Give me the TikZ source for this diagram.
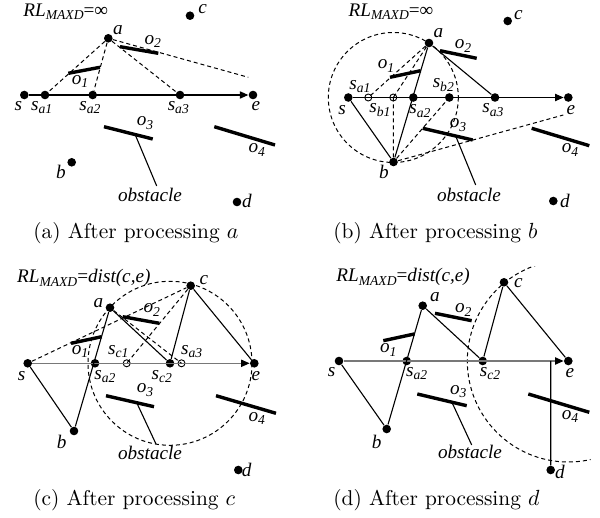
\documentclass[tikz,border=0pt]{standalone}
\usepackage{fontspec}
\newfontfamily\lblfont{Liberation Serif}
\usetikzlibrary{arrows.meta,calc}

% label with a lowered small index
\newcommand\lsub[2]{#1\raisebox{-1.7pt}{\fontsize{6.8}{7}\selectfont #2}}

\tikzset{
  pt/.style={circle, fill=black, inner sep=0pt, minimum size=4.3pt},
  hollow/.style={circle, draw=black, line width=0.45pt, inner sep=0pt, minimum size=3.5pt},
  lbl/.style={font=\lblfont\itshape\fontsize{9.6}{11}\selectfont, inner sep=0pt},
  capt/.style={font=\fontsize{10.7}{12}\selectfont, inner sep=0pt, anchor=west},
  edgeline/.style={line width=0.55pt},
  dashedline/.style={line width=0.5pt, dash pattern=on 2pt off 1.5pt},
  obst/.style={line width=1.7pt},
  pathline/.style={line width=0.55pt, -{Triangle[length=4.2pt,width=3.6pt,color=black]}},
  greypath/.style={pathline, draw={rgb,255:red,120;green,120;blue,120}},
}

\begin{document}
\begin{tikzpicture}[x=0.5pt,y=-0.5pt]
\useasboundingbox (0,0) rectangle (600,518);

% ===================== (a) =====================
\begin{scope}[name prefix=A-]
  \node[pt] (s)   at (24.3,95) {};
  \node[pt] (sa1) at (45,95) {};
  \node[pt] (sa2) at (92.7,95) {};
  \node[pt] (sa3) at (180,95) {};
  \node[pt] (e)   at (253,95) {};
  \node[pt] (a)   at (108.3,38.3) {};
  \node[pt] (c)   at (190,15.7) {};
  \node[pt] (b)   at (71.7,162.3) {};
  \node[pt] (d)   at (237,202) {};
  \coordinate (tail) at (248.3,77.3);

  \draw[pathline] (s) -- (e);
  \draw[dashedline] (a) -- (sa1) (a) -- (sa2) (a) -- (sa3) (a) -- (tail);

  \coordinate (o1a) at (68.3,73.3);  \coordinate (o1b) at (100,67.3);
  \coordinate (o2a) at (120,46.7);   \coordinate (o2b) at (158.3,53.3);
  \coordinate (o3a) at (104,126.7);  \coordinate (o3b) at (152.7,139);
  \coordinate (o4a) at (214.3,126.7);\coordinate (o4b) at (275,145);
  \draw[obst] (o1a) -- (o1b) (o2a) -- (o2b) (o3a) -- (o3b) (o4a) -- (o4b);

  \node[lbl] (obs) at (150,195) {obstacle};
  \coordinate (pend) at (156.7,186);
  \draw[edgeline] ($(o3a)!0.64!(o3b)$) -- (pend);

  \node[lbl, anchor=west] (rl) at (23,12) {\lsub{RL}{MAXD}\upshape=∞};
  \node[lbl] (lc)   at (202.7,9.3) {c};
  \node[lbl] (la)   at (118,30) {a};
  \node[lbl] (ls)   at (18.3,106) {s};
  \node[lbl] (lsa1) at (41.7,107.3) {\lsub{s}{a1}};
  \node[lbl] (lsa2) at (90,107.3) {\lsub{s}{a2}};
  \node[lbl] (lsa3) at (178.3,107.3) {\lsub{s}{a3}};
  \node[lbl] (le)   at (256,106) {e};
  \node[lbl] (lo1)  at (80,81.7) {\lsub{o}{1}};
  \node[lbl] (lo2)  at (152.7,41.7) {\lsub{o}{2}};
  \node[lbl] (lo3)  at (145,123) {\lsub{o}{3}};
  \node[lbl] (lo4)  at (256.7,150) {\lsub{o}{4}};
  \node[lbl] (lb)   at (61,172.3) {b};
  \node[lbl] (ld)   at (247,201) {d};
  \node[capt] (cap) at (33,233) {(a) After processing $a$};
\end{scope}

% ===================== (b) =====================
\begin{scope}[name prefix=B-]
  \node[pt] (s)       at (348.3,97.5) {};
  \node[hollow] (sa1) at (368.3,97.5) {};
  \node[hollow] (sb1) at (393.3,97.5) {};
  \node[pt] (sa2)     at (413.3,97.5) {};
  \node[pt] (sb2)     at (449.3,97.5) {};
  \node[pt] (sa3)     at (495,97.5) {};
  \node[pt] (e)       at (568.3,97.5) {};
  \node[pt] (a)       at (429,43) {};
  \node[pt] (c)       at (507.7,21) {};
  \node[pt] (b)       at (393.5,162) {};
  \node[pt] (d)       at (553.3,201) {};
  \coordinate (tail) at (563.3,115);

  \draw[dashedline] (sb1.center) circle[radius=65];
  \draw[pathline] (s) -- (e);
  \draw[edgeline] (s) -- (b) (b) -- (a) (a) -- (sa3);
  \draw[dashedline] (a) -- (sa1.center) (a) -- (sb1.center)
                    (b) -- (sb1.center) (b) -- (sb2) (b) -- (tail);

  \coordinate (o1a) at (390,77.3);   \coordinate (o1b) at (420.7,70.7);
  \coordinate (o2a) at (440,50.7);   \coordinate (o2b) at (476.7,58.3);
  \coordinate (o3a) at (422.7,128.3);\coordinate (o3b) at (472.7,140);
  \coordinate (o4a) at (531.7,128.3);\coordinate (o4b) at (589.3,145.7);
  \draw[obst] (o1a) -- (o1b) (o2a) -- (o2b) (o3a) -- (o3b) (o4a) -- (o4b);

  \node[lbl] (obs) at (469,195) {obstacle};
  \coordinate (pend) at (475.7,185);
  \draw[edgeline] ($(o3a)!0.66!(o3b)$) -- (pend);

  \node[lbl, anchor=west] (rl) at (348.3,12) {\lsub{RL}{MAXD}\upshape=∞};
  \node[lbl] (lc)   at (518.3,15) {c};
  \node[lbl] (la)   at (438.3,33.3) {a};
  \node[lbl] (ls)   at (342,110) {s};
  \node[lbl] (lsa1) at (360,86.7) {\lsub{s}{a1}};
  \node[lbl] (lsb1) at (380,110) {\lsub{s}{b1}};
  \node[lbl] (lsa2) at (420,111) {\lsub{s}{a2}};
  \node[lbl] (lsb2) at (443.3,85) {\lsub{s}{b2}};
  \node[lbl] (lsa3) at (493,110) {\lsub{s}{a3}};
  \node[lbl] (le)   at (571,110) {e};
  \node[lbl] (lo1)  at (386,66) {\lsub{o}{1}};
  \node[lbl] (lo2)  at (463,46) {\lsub{o}{2}};
  \node[lbl] (lo3)  at (458,125) {\lsub{o}{3}};
  \node[lbl] (lo4)  at (570,150) {\lsub{o}{4}};
  \node[lbl] (lb)   at (384,172) {b};
  \node[lbl] (ld)   at (565,201) {d};
  \node[capt] (cap) at (333,233) {(b) After processing $b$};
\end{scope}

% ===================== (c) =====================
\begin{scope}[name prefix=C-]
  \node[pt] (s)       at (27.7,363.3) {};
  \node[pt] (sa2)     at (95,363.3) {};
  \node[hollow] (sc1) at (126.7,363.3) {};
  \node[pt] (sc2)     at (170,363.3) {};
  \node[hollow] (sa3) at (181.5,363.3) {};
  \node[pt] (e)       at (254.3,363.3) {};
  \node[pt] (a)       at (110,307.7) {};
  \node[pt] (c)       at (190.7,285.7) {};
  \node[pt] (b)       at (74,431) {};
  \node[pt] (d)       at (238.3,470) {};

  \draw[dashedline] (sc2.center) circle[radius=82];
  \draw[greypath] (s) -- (e);
  \draw[edgeline] (s) -- (b) (b) -- (a) (a) -- (sc2) (sc2) -- (c) (c) -- (e);
  \draw[dashedline] (s) -- (c) (c) -- (sc1.center) (a) -- (sa3.center);

  \coordinate (o1a) at (71,343.3);   \coordinate (o1b) at (101.7,336.7);
  \coordinate (o2a) at (122.7,316.7);\coordinate (o2b) at (159.3,323.3);
  \coordinate (o3a) at (106,395.7);  \coordinate (o3b) at (154,406.7);
  \coordinate (o4a) at (216,395.7);  \coordinate (o4b) at (276,413.3);
  \draw[obst] (o1a) -- (o1b) (o2a) -- (o2b) (o3a) -- (o3b) (o4a) -- (o4b);

  \node[lbl] (obs) at (150,453) {obstacle};
  \coordinate (pend) at (156,444);
  \draw[edgeline] ($(o3a)!0.64!(o3b)$) -- (pend);

  \node[lbl, anchor=west] (rl) at (16.7,278.3) {\lsub{RL}{MAXD}\upshape=\itshape dist(c,e)};
  \node[lbl] (lc)   at (204,280) {c};
  \node[lbl] (la)   at (98.3,303.3) {a};
  \node[lbl] (ls)   at (21.7,376) {s};
  \node[lbl] (lsa2) at (105,376.7) {\lsub{s}{a2}};
  \node[lbl] (lsc1) at (118.3,351.7) {\lsub{s}{c1}};
  \node[lbl] (lsc2) at (161.7,376.7) {\lsub{s}{c2}};
  \node[lbl] (lsa3) at (191.7,351.7) {\lsub{s}{a3}};
  \node[lbl] (le)   at (256,376) {e};
  \node[lbl] (lo1)  at (80,351.7) {\lsub{o}{1}};
  \node[lbl] (lo2)  at (151.7,310) {\lsub{o}{2}};
  \node[lbl] (lo3)  at (145,390) {\lsub{o}{3}};
  \node[lbl] (lo4)  at (256.7,418.3) {\lsub{o}{4}};
  \node[lbl] (lb)   at (61.7,441.7) {b};
  \node[lbl] (ld)   at (246.7,470) {d};
  \node[capt] (cap) at (33,500) {(c) After processing $c$};
\end{scope}

% ===================== (d) =====================
\begin{scope}[name prefix=D-]
  \node[pt] (s)   at (339,361) {};
  \node[pt] (sa2) at (406.7,361) {};
  \node[pt] (sc2) at (482.7,361) {};
  \node[pt] (e)   at (568.3,361) {};
  \node[pt] (a)   at (422.7,305.7) {};
  \node[pt] (c)   at (504,282.3) {};
  \node[pt] (b)   at (386.7,429) {};
  \node[pt] (d)   at (550.7,470) {};
  \coordinate (foot) at (550.7,361);

  \begin{scope}
    \clip (300,267) rectangle (590.5,480);
    \draw[dashedline] (e.center) circle[radius=101];
  \end{scope}
  \draw[greypath] (s) -- (e);
  \draw[edgeline] (s) -- (b) (b) -- (a) (a) -- (sc2) (sc2) -- (c) (c) -- (e) (d) -- (foot);

  \coordinate (o1a) at (383.3,340.7);\coordinate (o1b) at (414.3,334);
  \coordinate (o2a) at (435,313.3);  \coordinate (o2b) at (471.7,320.7);
  \coordinate (o3a) at (417.3,394);  \coordinate (o3b) at (466.7,405.7);
  \coordinate (o4a) at (528.3,394);  \coordinate (o4b) at (589.3,412.3);
  \draw[obst] (o1a) -- (o1b) (o2a) -- (o2b) (o3a) -- (o3b) (o4a) -- (o4b);

  \node[lbl] (obs) at (470,452) {obstacle};
  \coordinate (pend) at (471.7,445);
  \draw[edgeline] ($(o3a)!0.70!(o3b)$) -- (pend);

  \node[lbl, anchor=west] (rl) at (336,277) {\lsub{RL}{MAXD}\upshape=\itshape dist(c,e)};
  \node[lbl] (lc)   at (518.3,283.3) {c};
  \node[lbl] (la)   at (435,296.7) {a};
  \node[lbl] (ls)   at (331.7,371.7) {s};
  \node[lbl] (lsa2) at (416.7,373.3) {\lsub{s}{a2}};
  \node[lbl] (lsc2) at (490,373.3) {\lsub{s}{c2}};
  \node[lbl] (le)   at (570,372.7) {e};
  \node[lbl] (lo1)  at (388.3,350) {\lsub{o}{1}};
  \node[lbl] (lo2)  at (463.3,310) {\lsub{o}{2}};
  \node[lbl] (lo3)  at (458.3,391.7) {\lsub{o}{3}};
  \node[lbl] (lo4)  at (570,416.7) {\lsub{o}{4}};
  \node[lbl] (lb)   at (376.7,441.7) {b};
  \node[lbl] (ld)   at (560,472.3) {d};
  \node[capt] (cap) at (333,500) {(d) After processing $d$};
\end{scope}
\end{tikzpicture}
\end{document}
